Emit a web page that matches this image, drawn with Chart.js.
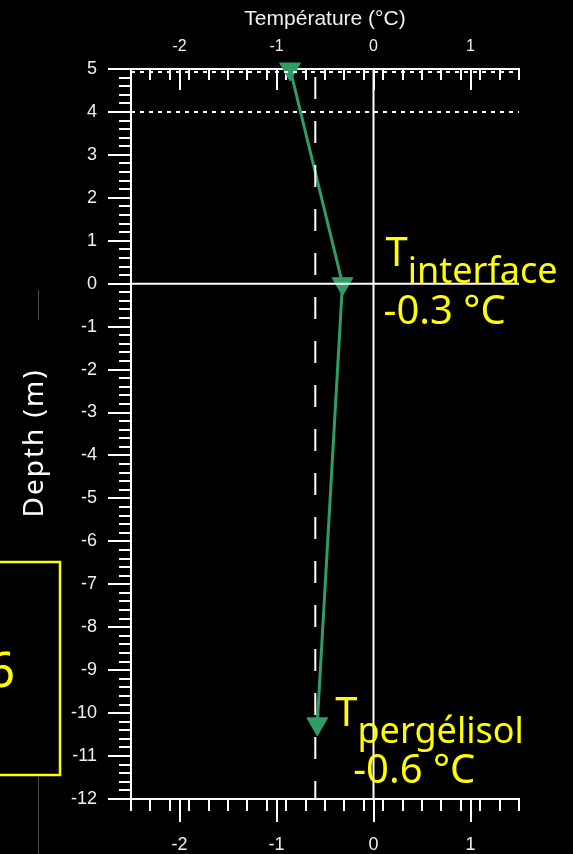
<!DOCTYPE html>
<html>
<head>
<meta charset="utf-8">
<script src="https://cdn.jsdelivr.net/npm/chart.js@4.4.1/dist/chart.umd.min.js"></script>
<style>
  html, body { margin: 0; padding: 0; background: #000; }
  #wrap { position: relative; width: 573px; height: 854px; }
</style>
</head>
<body>
<div id="wrap"><canvas id="c"></canvas></div>
<script>
// ---- data ----
const depthValues = [5, 0, -10.25];            // m
const temperatureValues = [-0.86, -0.32, -0.58]; // °C
const xRange = [-2.5, 1.5];
const yRange = [-12, 5];
const xMajorTicks = [-2, -1, 0, 1];
const yMajorTicks = [5, 4, 3, 2, 1, 0, -1, -2, -3, -4, -5, -6, -7, -8, -9, -10, -11, -12];
const minorStep = 0.2;
const permafrostTemperature = -0.6;
const dottedDepths = [4, 4.93];
const xTitle = 'Température (°C)';
const yTitle = 'Depth (m)';
const interfaceLabel = ['T', 'interface', '-0.3 °C'];
const permafrostLabel = ['T', 'pergélisol', '-0.6 °C'];
const leftBoxText = '6';

// ---- styles ----
const WHITE = '#ffffff';
const LABEL = '#f0f0f0';
const GREEN = '#2f9e66';
const YELLOW = '#ffff00';
const ARIAL = '"Liberation Sans", Arial, sans-serif';
const NARROW = '"Liberation Sans Narrow", "Arial Narrow", "Liberation Sans", Arial, sans-serif';
const NOTO = '"Noto Sans", "Open Sans", sans-serif';

const profile = depthValues.map((d, i) => ({ x: temperatureValues[i], y: d }));
const refLine = (pts, dash, offset) => ({
  data: pts, showLine: true, borderColor: WHITE, borderWidth: 2,
  borderDash: dash || [], borderDashOffset: offset || 0,
  pointRadius: 0, pointHoverRadius: 0, fill: false
});

const datasets = [
  refLine([{ x: 0, y: yRange[1] }, { x: 0, y: yRange[0] }]),
  refLine([{ x: xRange[0], y: 0 }, { x: xRange[1], y: 0 }]),
  ...dottedDepths.map(d => refLine([{ x: xRange[0], y: d }, { x: xRange[1], y: d }], [4, 5])),
  refLine([{ x: permafrostTemperature, y: yRange[1] }, { x: permafrostTemperature, y: yRange[0] }], [22, 22], 36),
  {
    data: profile, showLine: true, borderColor: GREEN, borderWidth: 3,
    pointStyle: 'triangle', rotation: 180, pointRadius: 12, pointHoverRadius: 12,
    pointBackgroundColor: GREEN, pointBorderColor: GREEN, pointBorderWidth: 1,
    clip: false, fill: false
  }
];

const gridOpts = (len) => ({ drawOnChartArea: false, drawTicks: true, tickLength: len, color: WHITE, lineWidth: 2 });

const overlay = {
  id: 'overlay',
  afterDraw(chart) {
    const { ctx } = chart;
    const xs = chart.scales.x, ys = chart.scales.y;
    ctx.save();

    // y-axis title
    ctx.save();
    ctx.fillStyle = WHITE;
    ctx.font = '28px ' + NOTO;
    ctx.letterSpacing = '2px';
    ctx.textAlign = 'center';
    ctx.textBaseline = 'middle';
    ctx.translate(35, 443);
    ctx.rotate(-Math.PI / 2);
    ctx.fillText(yTitle, 0, 0);
    ctx.restore();

    // annotations
    ctx.fillStyle = YELLOW;
    ctx.textAlign = 'left';
    ctx.textBaseline = 'alphabetic';
    const drawLabel = (lab, x0, yT, ySub, xVal, yVal) => {
      ctx.font = '40px ' + NOTO;
      ctx.fillText(lab[0], x0, yT);
      const w = ctx.measureText(lab[0]).width;
      ctx.font = '36px ' + NOTO;
      ctx.fillText(lab[1], x0 + w, ySub);
      ctx.font = '40px ' + NOTO;
      ctx.fillText(lab[2], xVal, yVal);
    };
    const ix = xs.getPixelForValue(0) + 12, iy = ys.getPixelForValue(0);
    drawLabel(interfaceLabel, ix, iy - 18, iy - 1, ix - 2, iy + 40);
    const px = xs.getPixelForValue(temperatureValues[2]) + 18, py = ys.getPixelForValue(depthValues[2]);
    drawLabel(permafrostLabel, px, py + 2, py + 19, px + 18, py + 59);

    // left box (partial, from slide)
    ctx.strokeStyle = YELLOW;
    ctx.lineWidth = 2.5;
    ctx.strokeRect(-10, 562, 70, 213);
    ctx.font = '49px ' + NOTO;
    ctx.textAlign = 'right';
    ctx.fillText(leftBoxText, 15, 687);

    // faint slide guide lines
    ctx.strokeStyle = '#4a4a4a';
    ctx.lineWidth = 1;
    ctx.beginPath();
    ctx.moveTo(38.5, 290); ctx.lineTo(38.5, 320);
    ctx.moveTo(38.5, 776); ctx.lineTo(38.5, 854);
    ctx.stroke();
    ctx.restore();
  }
};

new Chart(document.getElementById('c'), {
  type: 'scatter',
  data: { datasets },
  options: {
    responsive: true,
    maintainAspectRatio: false,
    animation: false,
    events: [],
    layout: { padding: { left: 0, right: 54, top: 0, bottom: 0 } },
    plugins: { legend: { display: false }, tooltip: { enabled: false } },
    scales: {
      x: {
        type: 'linear', position: 'bottom', weight: 1, min: xRange[0], max: xRange[1],
        afterBuildTicks: s => { s.ticks = xMajorTicks.map(v => ({ value: v })); },
        afterFit: s => { s.height = 55; },
        grid: gridOpts(23),
        border: { display: true, color: WHITE, width: 2 },
        ticks: { color: LABEL, font: { family: NARROW, size: 18 }, padding: 12, maxRotation: 0 }
      },
      xMinor: {
        type: 'linear', position: 'bottom', weight: 0, min: xRange[0], max: xRange[1],
        afterFit: s => { s.height = 0; },
        grid: gridOpts(12),
        border: { display: false },
        ticks: { display: false, stepSize: minorStep, includeBounds: false }
      },
      xTop: {
        type: 'linear', position: 'top', weight: 1, min: xRange[0], max: xRange[1],
        afterBuildTicks: s => { s.ticks = xMajorTicks.map(v => ({ value: v })); },
        afterFit: s => { s.height = 69; },
        grid: gridOpts(-21),
        border: { display: true, color: WHITE, width: 2 },
        ticks: { color: LABEL, font: { family: NARROW, size: 16 }, padding: 34, maxRotation: 0 },
        title: { display: true, text: xTitle, color: LABEL, font: { family: NARROW, size: 21 }, padding: { top: 7, bottom: 0 } }
      },
      xTopMinor: {
        type: 'linear', position: 'top', weight: 0, min: xRange[0], max: xRange[1],
        afterFit: s => { s.height = 0; },
        grid: gridOpts(-11),
        border: { display: false },
        ticks: { display: false, stepSize: minorStep, includeBounds: false }
      },
      y: {
        type: 'linear', position: 'left', weight: 1, min: yRange[0], max: yRange[1],
        afterBuildTicks: s => { s.ticks = yMajorTicks.map(v => ({ value: v })); },
        afterFit: s => { s.width = 131; },
        grid: gridOpts(23),
        border: { display: true, color: WHITE, width: 2 },
        ticks: { color: LABEL, font: { family: NARROW, size: 18 }, padding: 11 }
      },
      yMinor: {
        type: 'linear', position: 'left', weight: 0, min: yRange[0], max: yRange[1],
        afterFit: s => { s.width = 0; },
        grid: gridOpts(12),
        border: { display: false },
        ticks: { display: false, stepSize: minorStep, includeBounds: false }
      }
    }
  },
  plugins: [overlay]
});
</script>
</body>
</html>
